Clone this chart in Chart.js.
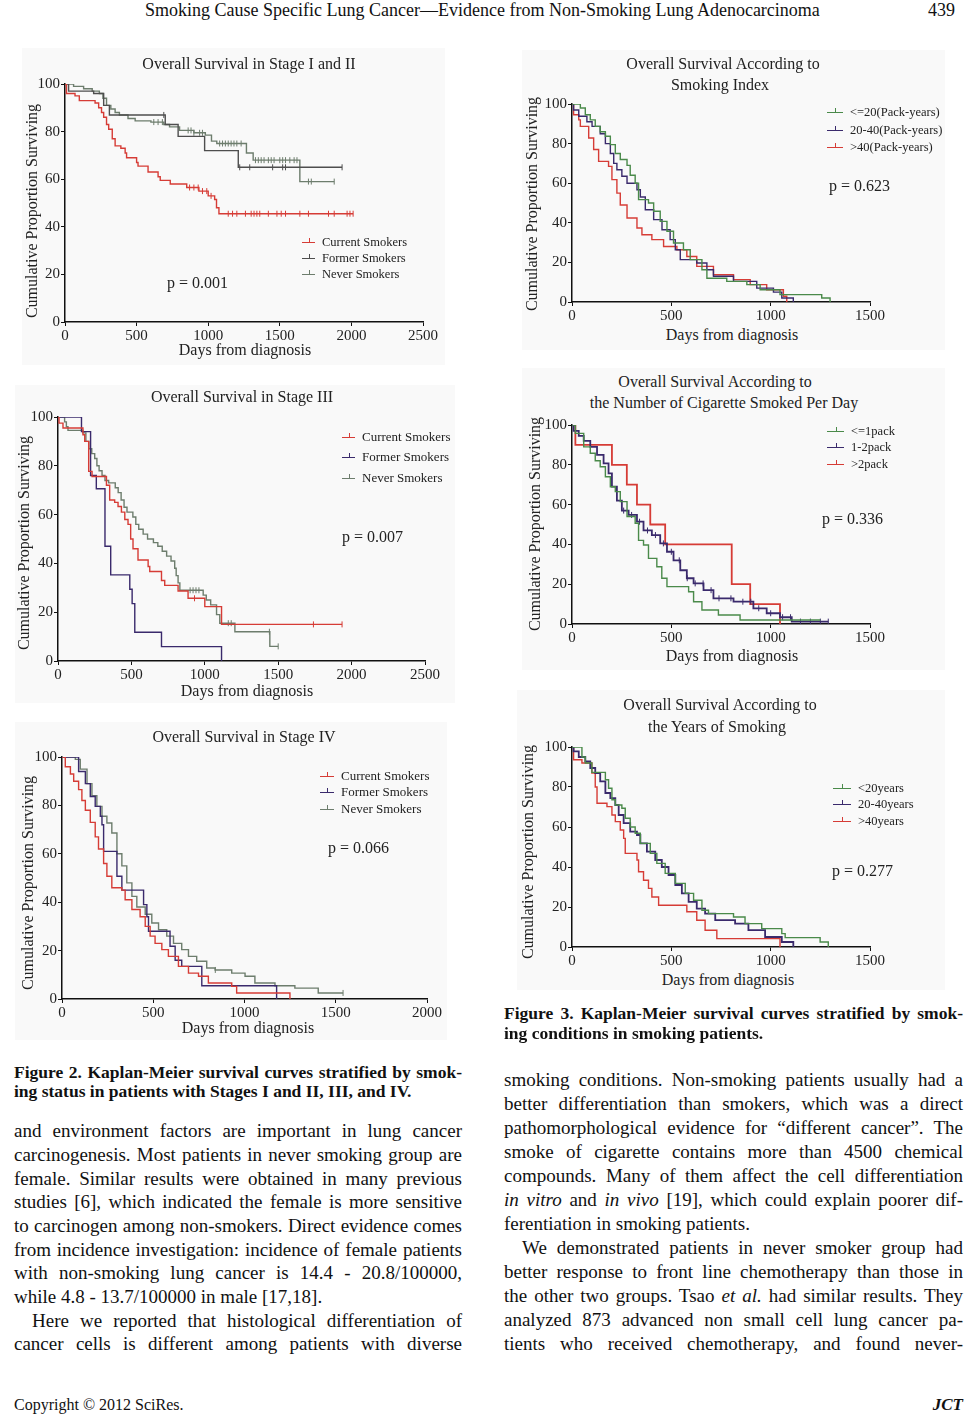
<!DOCTYPE html>
<html>
<head>
<meta charset="utf-8">
<script src="https://cdn.jsdelivr.net/npm/chart.js@4.4.1/dist/chart.umd.min.js"></script>
<style>
  body { margin: 0; background: #fff; }
  #page { position: relative; width: 966px; height: 1414px; overflow: hidden;
          font-family: "Liberation Serif", "Times New Roman", serif; color: #111; }
  .abs { position: absolute; white-space: nowrap; }
  .panel { position: absolute; background: #f9f9f9; }
  canvas { position: absolute; }
  .ctitle { position: absolute; font-size: 16px; color: #222; transform: translate(-50%, -50%); white-space: nowrap; }
  .ytitle { position: absolute; font-size: 16px; color: #222; white-space: nowrap;
            transform: translate(-50%, -50%) rotate(-90deg); }
  .pval { position: absolute; font-size: 16px; color: #222; white-space: nowrap; transform: translateY(-50%); }
  .leg { position: absolute; font-size: 12.5px; color: #222; white-space: nowrap; height: 16px; line-height: 16px; }
  .leg i { position: absolute; left: 0; top: 8px; height: 0; border-top: 1.5px solid; }
  .leg b { position: absolute; top: 4px; width: 0; height: 5px; border-left: 1px solid; }
  .line { position: absolute; height: 24px; line-height: 24px; font-size: 19px; white-space: nowrap; }
  .j { text-align: justify; text-align-last: justify; white-space: normal; }
  .cap { font-weight: bold; font-size: 17.5px; height: 20px; line-height: 20px; }
</style>
</head>
<body>
<div id="page">
  <div class="abs" style="left:145px; top:0px; font-size:18px; line-height:20px;">Smoking Cause Specific Lung Cancer—Evidence from Non-Smoking Lung Adenocarcinoma</div>
  <div class="abs" style="left:928px; top:0px; font-size:18px; line-height:20px;">439</div>

  <div class="panel" style="left:22px; top:48px; width:423px; height:317px;"></div>
  <div class="panel" style="left:15px; top:385px; width:440px; height:318px;"></div>
  <div class="panel" style="left:15px; top:722px; width:432px; height:318px;"></div>
  <div class="panel" style="left:522px; top:50px; width:423px; height:300px;"></div>
  <div class="panel" style="left:522px; top:368px; width:423px; height:302px;"></div>
  <div class="panel" style="left:517px; top:690px; width:428px; height:300px;"></div>

  <canvas id="c1" width="423" height="274" style="left:20px; top:72px; width:423px; height:274px;"></canvas>
  <canvas id="c2" width="432" height="280" style="left:13px; top:405px; width:432px; height:280px;"></canvas>
  <canvas id="c3" width="430" height="278" style="left:17px; top:745px; width:430px; height:278px;"></canvas>
  <canvas id="c4" width="363" height="234" style="left:527px; top:92px; width:363px; height:234px;"></canvas>
  <canvas id="c5" width="363" height="235" style="left:527px; top:413px; width:363px; height:235px;"></canvas>
  <canvas id="c6" width="363" height="236" style="left:527px; top:735px; width:363px; height:236px;"></canvas>

  <div id="overlay"></div>

  <div class="line j cap" style="left:14px; top:1062px; width:448px;">Figure 2. Kaplan-Meier survival curves stratified by smok-</div>
  <div class="line cap" style="left:14px; top:1081px;">ing status in patients with Stages I and II, III, and IV.</div>

  <div class="line j" style="left:14px; top:1119px; width:448px;">and environment factors are important in lung cancer</div>
  <div class="line j" style="left:14px; top:1143px; width:448px;">carcinogenesis. Most patients in never smoking group are</div>
  <div class="line j" style="left:14px; top:1167px; width:448px;">female. Similar results were obtained in many previous</div>
  <div class="line j" style="left:14px; top:1190px; width:448px;">studies [6], which indicated the female is more sensitive</div>
  <div class="line j" style="left:14px; top:1214px; width:448px;">to carcinogen among non-smokers. Direct evidence comes</div>
  <div class="line j" style="left:14px; top:1238px; width:448px;">from incidence investigation: incidence of female patients</div>
  <div class="line j" style="left:14px; top:1261px; width:448px;">with non-smoking lung cancer is 14.4 - 20.8/100000,</div>
  <div class="line" style="left:14px; top:1285px;">while 4.8 - 13.7/100000 in male [17,18].</div>
  <div class="line j" style="left:32px; top:1309px; width:430px;">Here we reported that histological differentiation of</div>
  <div class="line j" style="left:14px; top:1332px; width:448px;">cancer cells is different among patients with diverse</div>

  <div class="line j cap" style="left:504px; top:1003px; width:459px;">Figure 3. Kaplan-Meier survival curves stratified by smok-</div>
  <div class="line cap" style="left:504px; top:1023px;">ing conditions in smoking patients.</div>

  <div class="line j" style="left:504px; top:1068px; width:459px;">smoking conditions. Non-smoking patients usually had a</div>
  <div class="line j" style="left:504px; top:1092px; width:459px;">better differentiation than smokers, which was a direct</div>
  <div class="line j" style="left:504px; top:1116px; width:459px;">pathomorphological evidence for “different cancer”. The</div>
  <div class="line j" style="left:504px; top:1140px; width:459px;">smoke of cigarette contains more than 4500 chemical</div>
  <div class="line j" style="left:504px; top:1164px; width:459px;">compounds. Many of them affect the cell differentiation</div>
  <div class="line j" style="left:504px; top:1188px; width:459px;"><i>in vitro</i> and <i>in vivo</i> [19], which could explain poorer dif-</div>
  <div class="line" style="left:504px; top:1212px;">ferentiation in smoking patients.</div>
  <div class="line j" style="left:522px; top:1236px; width:441px;">We demonstrated patients in never smoker group had</div>
  <div class="line j" style="left:504px; top:1260px; width:459px;">better response to front line chemotherapy than those in</div>
  <div class="line j" style="left:504px; top:1284px; width:459px;">the other two groups. Tsao <i>et al.</i> had similar results. They</div>
  <div class="line j" style="left:504px; top:1308px; width:459px;">analyzed 873 advanced non small cell lung cancer pa-</div>
  <div class="line j" style="left:504px; top:1332px; width:459px;">tients who received chemotherapy, and found never-</div>

  <div class="abs" style="left:14px; top:1395px; font-size:16px; line-height:20px;">Copyright © 2012 SciRes.</div>
  <div class="abs" style="right:3px; top:1395px; font-size:17px; line-height:20px; font-weight:bold; font-style:italic;">JCT</div>
</div>

<script>
// survival curves, [day, % surviving] after each drop
const yTicks = [0, 20, 40, 60, 80, 100];
const xTicks2500 = [0, 500, 1000, 1500, 2000, 2500];
const xTicks2000 = [0, 500, 1000, 1500, 2000];
const xTicks1500 = [0, 500, 1000, 1500];

const statusLabels = ['Current Smokers', 'Former Smokers', 'Never Smokers'];

// Stage I and II
const s12Current = [[0,100],[10,96],[70,95],[100,93],[210,92],[235,90],[255,88],[270,86],[290,83],[305,81],[330,77],[350,74],[390,73],[420,71],[430,69],[500,67],[510,65.5],[580,63],[650,61],[665,59.5],[735,58],[850,56.5],[935,55],[1000,53],[1045,51.5],[1058,48],[1075,45.5],[2012,45.5]];
const s12CurrentCens = [870,900,930,960,990,1020,1140,1170,1200,1260,1300,1320,1340,1360,1420,1480,1510,1540,1640,1700,1840,1880,1970,1990,2012];
const s12Former = [[0,100],[25,97],[200,96],[270,91],[310,87],[700,83],[790,78],[975,72],[1210,65],[1935,65]];
const s12FormerCens = [690,1220,1290,1450,1520,1540,1935];
const s12Never = [[0,100],[60,99],[130,98],[190,97],[240,96],[265,94],[290,91],[320,89.5],[350,88],[380,87],[440,85.5],[490,84.5],[600,84],[690,83],[730,82],[800,80.5],[900,79.5],[980,78.5],[1023,76],[1060,75],[1267,71],[1314,68],[1640,59],[1880,59]];
const s12NeverCens = [620,650,680,860,880,900,940,960,1080,1100,1120,1140,1160,1180,1200,1230,1330,1350,1370,1390,1420,1440,1460,1500,1520,1540,1570,1600,1620,1700,1720,1880];

// Stage III
const s3Current = [[0,100],[7,97.5],[34,95.5],[170,92.7],[182,90],[209,77.7],[232,75.6],[330,72],[352,66],[386,65],[409,63.3],[432,61],[455,58],[477,56],[495,50],[511,46],[545,41.4],[614,38.7],[625,36.7],[705,33],[727,31],[818,28.7],[886,25.7],[1000,22.3],[1114,15],[1935,15]];
const s3CurrentCens = [930,1740,1935];
const s3Former = [[0,100],[160,94],[222,76],[261,70.6],[320,47],[359,35.3],[489,29.4],[505,23.5],[523,11.8],[705,5.9],[1114,0]];
const s3Never = [[0,100],[45,98],[57,96],[68,94.5],[170,93.5],[190,90],[210,87],[230,85],[250,83],[265,80],[280,78],[300,76],[320,74],[345,73],[390,71],[410,69],[430,66],[450,63],[470,61],[510,59],[530,56],[550,54],[580,52],[610,50],[650,48.5],[680,47],[710,45],[740,43],[770,41],[795,38],[805,35],[818,32],[830,29],[989,27],[1010,25],[1040,23],[1080,19],[1102,15.5],[1205,12],[1443,6],[1500,6]];
const s3NeverCens = [900,920,940,960,1160,1180,1440,1500];

// Stage IV
const s4Current = [[0,100],[18,96],[46,93],[64,90],[91,86.5],[109,82],[128,78],[155,73],[182,67],[200,62],[228,56],[246,50.7],[273,46],[328,45],[346,41],[383,37],[428,34],[456,30],[483,26],[510,23],[547,20.4],[583,17.6],[638,13.5],[693,10.7],[748,9.4],[802,6.6],[930,5.2],[957,2.5],[1249,0]];
const s4Former = [[0,100],[91,94],[128,89],[155,83.7],[182,79.6],[210,75.5],[219,72],[228,61],[301,50.7],[328,45],[447,39],[465,34],[474,28],[592,21.8],[620,16],[656,13.5],[766,5.5],[1176,0]];
const s4Never = [[0,100],[73,99],[100,95],[137,89],[164,84],[191,79.6],[219,75.5],[246,72.7],[273,68.6],[301,60],[328,55],[355,48],[383,42.4],[410,38],[456,35],[492,31.4],[529,28.6],[574,26],[611,23],[656,20.4],[693,17.6],[738,15.6],[793,12.8],[839,12],[930,10.7],[1003,9.4],[1057,6.6],[1167,5.5],[1276,4.5],[1404,2.5],[1540,2.5]];
const s4NeverCens = [840,1540];

// Smoking index (pack-years)
const packLabels = ['<=20(Pack-years)', '20-40(Pack-years)', '>40(Pack-years)'];
const pyLow = [[0,100],[42,98],[67,94.6],[92,92],[117,88.7],[142,86],[168,83.7],[193,79.5],[218,75],[243,72],[277,69],[293,64],[318,60],[335,51.7],[385,50],[411,45.8],[444,40.7],[478,35.7],[511,29.8],[561,26.4],[595,21.4],[654,16.3],[679,12],[779,10.4],[880,8.8],[947,6.2],[1047,3.7],[1257,2],[1299,0]];
const pyMid = [[0,100],[8,97],[34,93.8],[75,91],[101,88.7],[142,85],[168,80],[193,75],[210,70],[226,66.8],[251,63.5],[277,60],[327,56.7],[344,53],[369,46.6],[411,41.6],[453,36.5],[494,31.5],[520,26.4],[545,21.4],[628,19.7],[679,16.3],[712,13],[813,10.4],[930,7],[1014,5],[1056,2],[1114,0]];
const pyHigh = [[0,100],[8,94.6],[34,92],[42,88.7],[84,82.8],[109,77],[134,71],[184,68.5],[201,61.8],[226,55],[243,49],[277,42.4],[327,37.4],[352,34],[402,31.5],[461,28],[528,26.4],[578,23],[628,18],[712,13.8],[813,11.3],[897,8.8],[980,6.2],[1064,2.9],[1081,0]];

// Cigarettes per day
const cpdLabels = ['<=1pack', '1-2pack', '>2pack'];
const cpdLow = [[0,100],[17,95.8],[59,89],[92,85.8],[117,82],[142,79],[168,74],[193,69],[218,66.5],[243,61.5],[277,54],[318,50.6],[335,42],[360,39.7],[385,33],[427,28.8],[452,23],[478,18.8],[587,16.2],[612,11.2],[654,7],[737,4.5],[846,2],[1250,2]];
const cpdMid = [[0,100],[8,97],[34,94.5],[59,92],[92,89],[126,85],[159,80.7],[184,75.7],[201,69],[226,62],[251,57],[285,54.8],[327,51.4],[360,47],[402,44.7],[444,40.5],[478,36.3],[511,32],[545,27],[578,23],[612,20.4],[662,17],[712,12.9],[813,11.2],[913,7.9],[980,5.4],[1047,3.4],[1106,1.2],[1290,1.2]];
const cpdMidCens = [260,300,340,380,420,460,500,540,580,620,660,700,740,800,860,900,940,1000,1060,1100,1150,1200,1250,1290];
const cpdHigh = [[0,100],[17,90],[201,80],[276,70],[327,60],[394,50],[469,40],[804,20],[897,10],[1047,0]];

// Years of smoking
const yearLabels = ['<20years', '20-40years', '>40years'];
const yrLow = [[0,100],[50,95],[67,92],[100,87.3],[168,83.6],[184,79.4],[201,73.6],[218,71],[251,69.4],[268,64.4],[293,60],[318,56.9],[344,51.8],[394,46.8],[427,41.8],[469,36.8],[520,31.8],[570,26.8],[612,23.4],[654,18.4],[687,16.7],[813,15],[871,11.7],[955,9.2],[1056,6.7],[1073,4.7],[1249,2.5],[1290,0]];
const yrMid = [[0,100],[8,97.8],[34,95],[67,92.8],[92,89.5],[117,87],[142,82.8],[168,77],[193,74.4],[218,71],[235,66],[260,61.9],[293,57.7],[327,56],[344,51.8],[377,47.7],[419,43.5],[452,40],[486,36],[520,31],[553,26.8],[587,22.6],[628,19.2],[670,16.7],[721,13.4],[821,11.7],[888,8.4],[972,5],[1056,2.5],[1114,0]];
const yrHigh = [[0,100],[8,93.6],[50,92],[100,87],[117,80],[126,71.9],[176,70.2],[201,66],[218,62.7],[243,58.5],[260,54.3],[268,46.8],[327,43.5],[335,37.6],[360,33.4],[385,29.3],[402,25],[436,20.9],[578,17.6],[628,13.4],[670,8.4],[729,4.2],[1039,4.2],[1047,0]];

const RED = '#d63c36', PURPLE = '#3a2a6c', GREEN = '#4a8a4a';
const DARKGRAY = '#4e4e4e', GRAYGREEN = '#6d7d6d';
const TXT = '#222';

// value of the step curve at day t
function stepAt(curve, t) {
  let v = curve[0][1];
  for (const p of curve) { if (p[0] <= t) v = p[1]; }
  return v;
}

function kmChart(id, xTicks, series) {
  const datasets = [];
  series.forEach(s => {
    datasets.push({
      data: s.curve.map(p => ({ x: p[0], y: p[1] })),
      borderColor: s.color, borderWidth: s.width || 1.4,
      stepped: true, pointRadius: 0, fill: false
    });
    if (s.cens) {
      datasets.push({
        data: s.cens.map(t => ({ x: t, y: stepAt(s.curve, t) })),
        showLine: false, pointStyle: 'line', rotation: 90, pointRadius: 3,
        pointBorderWidth: 1, pointBorderColor: s.color, borderColor: s.color
      });
    }
  });
  const axisFont = { family: '"Liberation Serif", "Times New Roman", serif', size: 15 };
  new Chart(document.getElementById(id), {
    type: 'line',
    data: { datasets },
    options: {
      responsive: false, animation: false,
      layout: { padding: { top: 12, right: 20, left: 0, bottom: 0 } },
      plugins: { legend: { display: false }, tooltip: { enabled: false } },
      scales: {
        x: {
          type: 'linear', min: 0, max: xTicks[xTicks.length - 1],
          afterBuildTicks: s => { s.ticks = xTicks.map(v => ({ value: v })); },
          afterFit: s => { s.height = 24; },
          grid: { drawOnChartArea: false, drawTicks: true, tickLength: 4, color: '#111' },
          border: { display: true, color: '#111', width: 1.5 },
          ticks: { color: TXT, font: axisFont, padding: 1, maxRotation: 0, callback: v => String(v) }
        },
        y: {
          min: 0, max: 100,
          afterBuildTicks: s => { s.ticks = yTicks.map(v => ({ value: v })); },
          afterFit: s => { s.width = 45; },
          grid: { drawOnChartArea: false, drawTicks: true, tickLength: 4, color: '#111' },
          border: { display: true, color: '#111', width: 1.5 },
          ticks: { color: TXT, font: axisFont, padding: 1, callback: v => String(v) }
        }
      }
    }
  });
}

const overlay = document.getElementById('overlay');
function addEl(cls, html, style) {
  const d = document.createElement('div');
  d.className = cls; d.innerHTML = html; d.style.cssText = style;
  overlay.appendChild(d);
}
function esc(s) { return s.replace(/&/g, '&amp;').replace(/</g, '&lt;').replace(/>/g, '&gt;'); }
function legend(x, ys, lineW, labels, colors, size) {
  labels.forEach((lab, i) => {
    addEl('leg',
      `<i style="width:${lineW}px;border-color:${colors[i]}"></i><b style="left:${lineW / 2}px;border-color:${colors[i]}"></b>` +
      `<span style="margin-left:${lineW + 7}px">${esc(lab)}</span>`,
      `left:${x}px; top:${ys[i] - 8}px; font-size:${size}px;`);
  });
}
function texts(cfg) {
  cfg.titles.forEach(t => addEl('ctitle', esc(t[0]), `left:${t[1]}px; top:${t[2]}px;`));
  addEl('ytitle', 'Cumulative Proportion Surviving', `left:${cfg.yt[0]}px; top:${cfg.yt[1]}px;`);
  addEl('ctitle', 'Days from diagnosis', `left:${cfg.xt[0]}px; top:${cfg.xt[1]}px;`);
  addEl('pval', cfg.p[0], `left:${cfg.p[1]}px; top:${cfg.p[2]}px;`);
}

// Figure 2
kmChart('c1', xTicks2500, [
  { curve: s12Current, cens: s12CurrentCens, color: RED },
  { curve: s12Former, cens: s12FormerCens, color: DARKGRAY },
  { curve: s12Never, cens: s12NeverCens, color: GRAYGREEN }
]);
texts({ titles: [['Overall Survival in Stage I and II', 249, 64]], yt: [32, 211], xt: [245, 350], p: ['p = 0.001', 167, 283] });
legend(302, [242, 258, 274], 13, statusLabels, [RED, DARKGRAY, GRAYGREEN], 12.5);

kmChart('c2', xTicks2500, [
  { curve: s3Current, cens: s3CurrentCens, color: RED },
  { curve: s3Former, color: PURPLE },
  { curve: s3Never, cens: s3NeverCens, color: GRAYGREEN }
]);
texts({ titles: [['Overall Survival in Stage III', 242, 397]], yt: [24, 543], xt: [247, 691], p: ['p = 0.007', 342, 537] });
legend(342, [437, 457, 478], 13, statusLabels, [RED, PURPLE, GRAYGREEN], 13);

kmChart('c3', xTicks2000, [
  { curve: s4Current, color: RED },
  { curve: s4Former, color: PURPLE },
  { curve: s4Never, cens: s4NeverCens, color: GRAYGREEN }
]);
texts({ titles: [['Overall Survival in Stage IV', 244, 737]], yt: [28, 883], xt: [248, 1028], p: ['p = 0.066', 328, 848] });
legend(320, [776, 792, 809], 14, statusLabels, [RED, PURPLE, GRAYGREEN], 13);

// Figure 3
kmChart('c4', xTicks1500, [
  { curve: pyLow, color: GREEN },
  { curve: pyMid, color: PURPLE },
  { curve: pyHigh, color: RED }
]);
texts({ titles: [['Overall Survival According to', 723, 64], ['Smoking Index', 720, 85]], yt: [532, 204], xt: [732, 335], p: ['p = 0.623', 829, 186] });
legend(827, [112, 130, 147], 16, packLabels, [GREEN, PURPLE, RED], 12.5);

kmChart('c5', xTicks1500, [
  { curve: cpdLow, color: GREEN },
  { curve: cpdMid, cens: cpdMidCens, color: PURPLE, width: 1.8 },
  { curve: cpdHigh, color: RED, width: 1.8 }
]);
texts({ titles: [['Overall Survival According to', 715, 382], ['the Number of Cigarette Smoked Per Day', 724, 403]], yt: [535, 524], xt: [732, 656], p: ['p = 0.336', 822, 519] });
legend(827, [431, 447, 464], 17, cpdLabels, [GREEN, PURPLE, RED], 12.5);

kmChart('c6', xTicks1500, [
  { curve: yrLow, color: GREEN },
  { curve: yrMid, color: PURPLE, width: 1.8 },
  { curve: yrHigh, color: RED }
]);
texts({ titles: [['Overall Survival According to', 720, 705], ['the Years of Smoking', 717, 727]], yt: [528, 852], xt: [728, 980], p: ['p = 0.277', 832, 871] });
legend(833, [788, 804, 821], 18, yearLabels, [GREEN, PURPLE, RED], 12.5);
</script>
</body>
</html>
